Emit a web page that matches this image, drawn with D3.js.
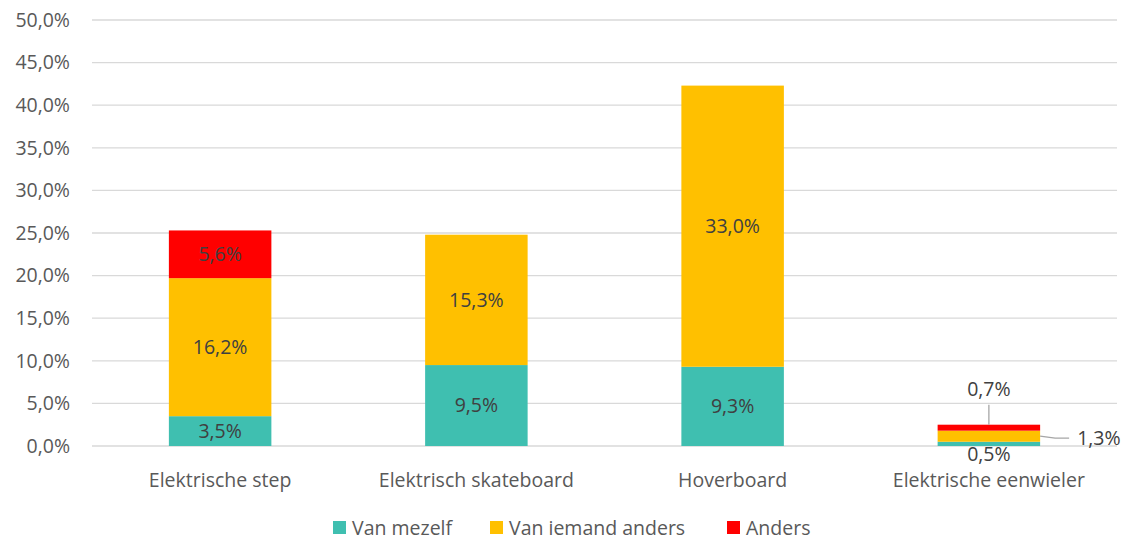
<!DOCTYPE html>
<html>
<head>
<meta charset="utf-8">
<script src="https://cdn.jsdelivr.net/npm/d3@7"></script>
<style>
  body { margin: 0; background: #fff; }
  text { font-family: "Open Sans", sans-serif; }
</style>
</head>
<body>
<div class="chart"></div>
<script>
var categories = ["Elektrische step", "Elektrisch skateboard", "Hoverboard", "Elektrische eenwieler"];
var seriesNames = ["Van mezelf", "Van iemand anders", "Anders"];
var vanMezelf = [3.5, 9.5, 9.3, 0.5];
var vanIemandAnders = [16.2, 15.3, 33.0, 1.3];
var anders = [5.6, 0, 0, 0.7];
var yTicks = [0, 5, 10, 15, 20, 25, 30, 35, 40, 45, 50];
var colors = ["#3fbfb0", "#ffc000", "#ff0000"];

var W = 1127, H = 541;
var FS = 19.5;
var margin = {top: 20, right: 10, bottom: 95, left: 92},
    width = W - margin.left - margin.right,
    height = H - margin.top - margin.bottom;

var rows = categories.map(function(c, i) {
  return {cat: c, "Van mezelf": vanMezelf[i], "Van iemand anders": vanIemandAnders[i], "Anders": anders[i]};
});
var stacked = d3.stack().keys(seriesNames)(rows);

var svg = d3.select(".chart").append("svg").attr("width", W).attr("height", H);
var g = svg.append("g").attr("transform", "translate(" + margin.left + "," + margin.top + ")");

var x = d3.scaleBand().domain(categories).range([0, width]).paddingInner(0.6).paddingOuter(0.3);
var y = d3.scaleLinear().domain([0, 50]).range([height, 0]);
var fmt = function(v) { return d3.format(".1f")(v).replace(".", ",") + "%"; };

// gridlines
g.append("g").selectAll("line").data(yTicks).enter().append("line")
  .attr("x1", 0).attr("x2", width)
  .attr("y1", function(d) { return y(d); }).attr("y2", function(d) { return y(d); })
  .attr("stroke", "#d9d9d9").attr("stroke-width", 1.3);

// y axis labels
var yAxis = g.append("g").call(d3.axisLeft(y).tickValues(yTicks).tickFormat(fmt).tickSize(0).tickPadding(22));
yAxis.select(".domain").remove();
yAxis.selectAll("text").attr("font-size", FS).attr("fill", "#595959").attr("font-family", "Open Sans, sans-serif");

// x axis labels
var xAxis = g.append("g").attr("transform", "translate(0," + height + ")")
  .call(d3.axisBottom(x).tickSize(0).tickPadding(27));
xAxis.select(".domain").remove();
xAxis.selectAll("text").attr("font-size", FS).attr("fill", "#595959").attr("font-family", "Open Sans, sans-serif");

// bars
var layer = g.selectAll(".layer").data(stacked).enter().append("g")
  .attr("fill", function(d, i) { return colors[i]; });
layer.selectAll("rect").data(function(d) { return d; }).enter().append("rect")
  .attr("x", function(d) { return x(d.data.cat); })
  .attr("width", x.bandwidth())
  .attr("y", function(d) { return y(d[1]); })
  .attr("height", function(d) { return y(d[0]) - y(d[1]); });

// data labels inside bars (first three categories)
stacked.forEach(function(s) {
  s.forEach(function(d, i) {
    var v = d[1] - d[0];
    if (v <= 0 || i === 3) return;
    g.append("text")
      .attr("x", x(d.data.cat) + x.bandwidth() / 2)
      .attr("y", y((d[0] + d[1]) / 2))
      .attr("dy", "0.35em")
      .attr("text-anchor", "middle")
      .attr("font-size", FS).attr("fill", "#404040")
      .text(fmt(v));
  });
});

// eenwieler labels with leader lines
var ec = categories[3];
var ex = x(ec), ew = x.bandwidth(), emid = ex + ew / 2;
var sM = stacked[0][3], sI = stacked[1][3], sA = stacked[2][3];
var lbl = function(tx, ty, anchor, v) {
  g.append("text").attr("x", tx).attr("y", ty).attr("dy", "0.35em")
    .attr("text-anchor", anchor).attr("font-size", FS).attr("fill", "#404040").text(fmt(v));
};
// Anders: above
g.append("line").attr("x1", emid).attr("x2", emid).attr("y1", y(sA[1]) - 20).attr("y2", y(sA[1]))
  .attr("stroke", "#a6a6a6").attr("stroke-width", 1.3);
lbl(emid, y(sA[1]) - 36, "middle", sA[1] - sA[0]);
// Van iemand anders: right
var iy = y((sI[0] + sI[1]) / 2);
g.append("polyline")
  .attr("points", [[ex + ew, iy], [ex + ew + 15, iy + 2], [ex + ew + 29, iy + 2]].map(function(p) { return p.join(","); }).join(" "))
  .attr("fill", "none").attr("stroke", "#a6a6a6").attr("stroke-width", 1.3);
lbl(ex + ew + 37, iy + 2, "start", sI[1] - sI[0]);
// Van mezelf: below
lbl(emid, y(sM[0]) + 8, "middle", sM[1] - sM[0]);

// legend
var legX = [333, 490, 727];
var leg = svg.append("g");
seriesNames.forEach(function(n, i) {
  leg.append("rect").attr("x", legX[i]).attr("y", 521).attr("width", 13).attr("height", 13).attr("fill", colors[i]);
  leg.append("text").attr("x", legX[i] + 19).attr("y", 528).attr("dy", "0.35em")
    .attr("font-size", FS).attr("fill", "#595959").text(n);
});
</script>
</body>
</html>
